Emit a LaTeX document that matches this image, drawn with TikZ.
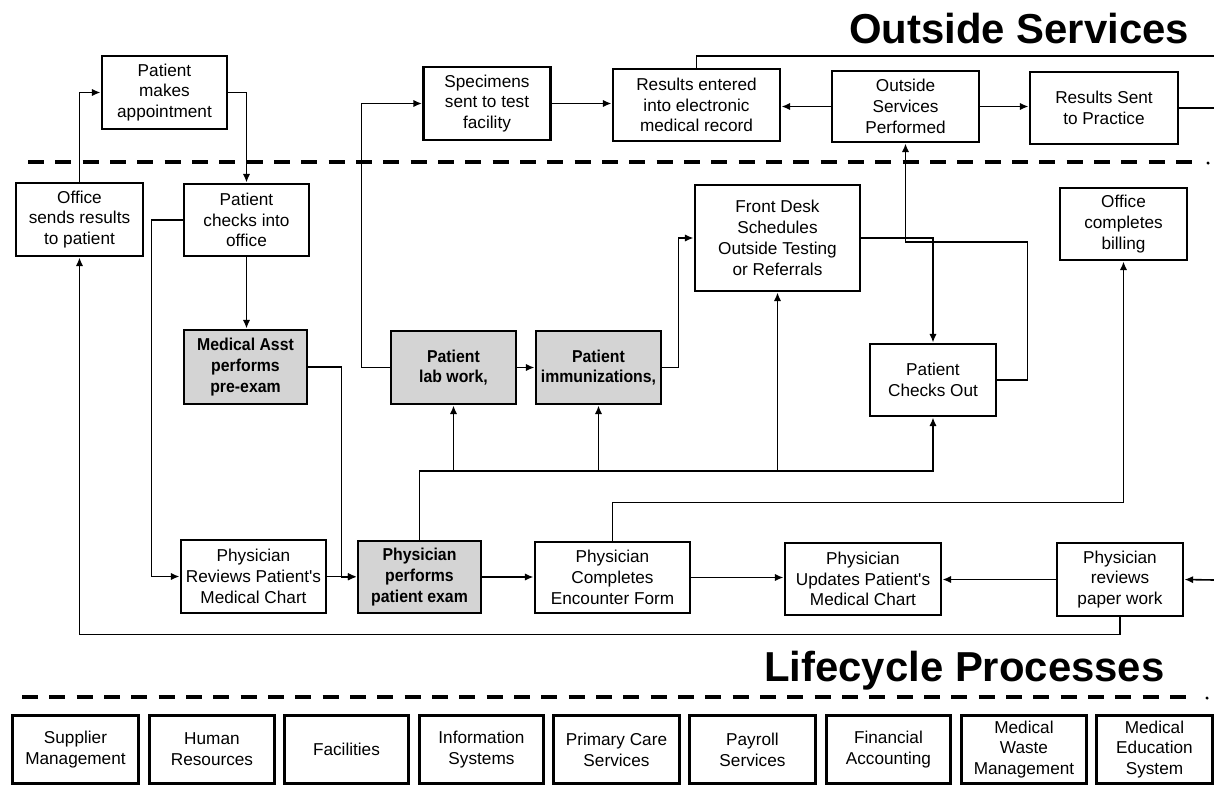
\documentclass[tikz,border=0pt]{standalone}
\usepackage{fontspec}
\setmainfont{Liberation Sans}
\newfontfamily\shadefont{Liberation Sans}[FakeStretch=0.92]
\usetikzlibrary{arrows.meta}
\newcommand{\boxfont}{\fontsize{12.9}{15.6}\selectfont}
\newcommand{\titlefont}{\fontsize{31.4}{36}\selectfont\bfseries}
\begin{document}
\begin{tikzpicture}[x=0.75pt,y=-0.75pt,
  sz/.style 2 args={minimum width=#1*0.75pt, minimum height=#2*0.75pt},
  box/.style={draw, line width=2.2pt, inner sep=0pt, align=center, fill=white, font=\boxfont},
  shaded/.style={box, fill=black!17, font=\boxfont\shadefont\bfseries},
  conn/.style={line width=1.2pt},
  arr/.style={conn, -{Latex[length=6.5pt,width=5.5pt]}},
  divider/.style={line width=3pt, dash pattern=on 12pt off 8.5pt},
  title/.style={font=\titlefont, inner sep=0pt, anchor=base west}]
\useasboundingbox (0,0) rectangle (1214,786);

% section titles and dividers
\node[title] (tOut) at (849,43) {Outside Services};
\node[title] (tLife) at (764,681) {Lifecycle Processes};
\draw[divider] (28,162) -- (1200,162);
\fill (1208,163) circle (1.3pt);
\draw[divider] (22,697) -- (1192,697);
\fill (1207,698) circle (1.3pt);

% outside services row
\node[box, sz={127}{73}] (specimens) at (487,103.5) {Specimens\\sent to test\\facility};
\node[box, sz={167}{72}] (emr) at (696.5,105) {Results entered\\into electronic\\medical record};
\node[box, sz={147}{71}] (outsvc) at (905.5,106.5) {Outside\\Services\\Performed};
\node[box, sz={148}{72}] (sent) at (1104,108) {Results Sent\\to Practice};

% office process
\node[box, sz={125}{73}] (appt) at (164.5,92.5) {Patient\\makes\\appointment};
\node[box, sz={127}{73}] (sendres) at (79.5,219.5) {Office\\sends results\\to patient};
\node[box, sz={125}{72}] (checkin) at (246.5,220) {Patient\\checks into\\office};
\node[shaded, sz={123}{74}] (medasst) at (245.5,367) {Medical Asst\\performs\\pre-exam};
\node[box, sz={165}{106}] (frontdesk) at (777.5,238) {Front Desk\\Schedules\\Outside Testing\\or Referrals};
\node[box, sz={127}{72}] (billing) at (1123.5,224) {Office\\completes\\billing};
\node[shaded, sz={125}{73}] (lab) at (453.5,367.5) {Patient\\lab work,};
\node[shaded, sz={125}{73}] (immun) at (598.5,367.5) {Patient\\immunizations,};
\node[box, sz={126}{72}] (checkout) at (933,380) {Patient\\Checks Out};
\node[box, sz={145}{73}] (revchart) at (253.5,576.5) {Physician\\Reviews Patient\textquotesingle s\\Medical Chart};
\node[shaded, sz={123}{72}] (exam) at (419.5,577) {Physician\\performs\\patient exam};
\node[box, sz={155}{71}] (encounter) at (612.5,577.5) {Physician\\Completes\\Encounter Form};
\node[box, sz={156}{72}] (updchart) at (863,579) {Physician\\Updates Patient\textquotesingle s\\Medical Chart};
\node[box, sz={126}{73}] (paper) at (1120,579.5) {Physician\\reviews\\paper work};

% lifecycle processes
\foreach \i/\l/\w/\t in {
  1/11/126/{Supplier\\Management},
  2/148/125/{Human\\Resources},
  3/283/124/{Facilities},
  4/418/124/{Information\\Systems},
  5/552/126/{Primary Care\\Services},
  6/688/126/{Payroll\\Services},
  7/825/124/{Financial\\Accounting},
  8/960/125/{Medical\\Waste\\Management},
  9/1095/116/{Medical\\Education\\System}}
  \node[box, sz={\w}{68}, anchor=north west] (lp\i) at (\l,714) {\t};

% free ends at the right margin
\coordinate (edgeTop) at (1214,56);
\coordinate (edgeSent) at (1214,108);
\coordinate (edgePaper) at (1214,580);
\coordinate (busA) at (0,471);

% connectors
\draw[arr] (sendres.north) |- (appt.west);
\draw[arr] (appt.east) -| (checkin.north);
\draw[arr] (checkin.west) -- ++(-31,0) |- (revchart.west);
\draw[arr] (checkin.south) -- (checkin.south |- medasst.north);
\draw[arr] (medasst.east) -- ++(33,0) |- (exam.west);
\draw[arr] (revchart.east) -- (revchart.east -| exam.west);
\draw[arr] (exam.east) -- (exam.east -| encounter.west);
\draw[arr] (encounter.east) -- (encounter.east -| updchart.west);
\draw[arr] (paper.west) -- (paper.west -| updchart.east);
\draw[arr] (edgePaper) -- (paper.east);
\draw[arr] (paper.south) -- ++(0,17) -| (sendres.south);
\draw[arr] (lab.west) -- ++(-28,0) |- (specimens.west);
\draw[arr] (lab.east) -- (immun.west);
\draw[arr] (immun.east) -- ++(16,0) |- (frontdesk.west);
\draw[arr] (specimens.east) -- (specimens.east -| emr.west);
\draw[arr] (outsvc.west) -- (outsvc.west -| emr.east);
\draw[arr] (outsvc.east) -- (outsvc.east -| sent.west);
\draw[conn] (sent.east) -- (edgeSent);
\draw[conn] (emr.north) |- (edgeTop);
\draw[arr] (frontdesk.east) -| (checkout.north);
\draw[arr] (checkout.east) -- ++(30,0) -- ++(0,-138) -| (outsvc.south);
\draw[arr] (exam.north) |- (busA -| checkout.south) -- (checkout.south);
\draw[arr] (lab.south |- busA) -- (lab.south);
\draw[arr] (immun.south |- busA) -- (immun.south);
\draw[arr] (frontdesk.south |- busA) -- (frontdesk.south);
\draw[arr] (encounter.north) -- ++(0,-38) -| (billing.south);
\end{tikzpicture}
\end{document}
